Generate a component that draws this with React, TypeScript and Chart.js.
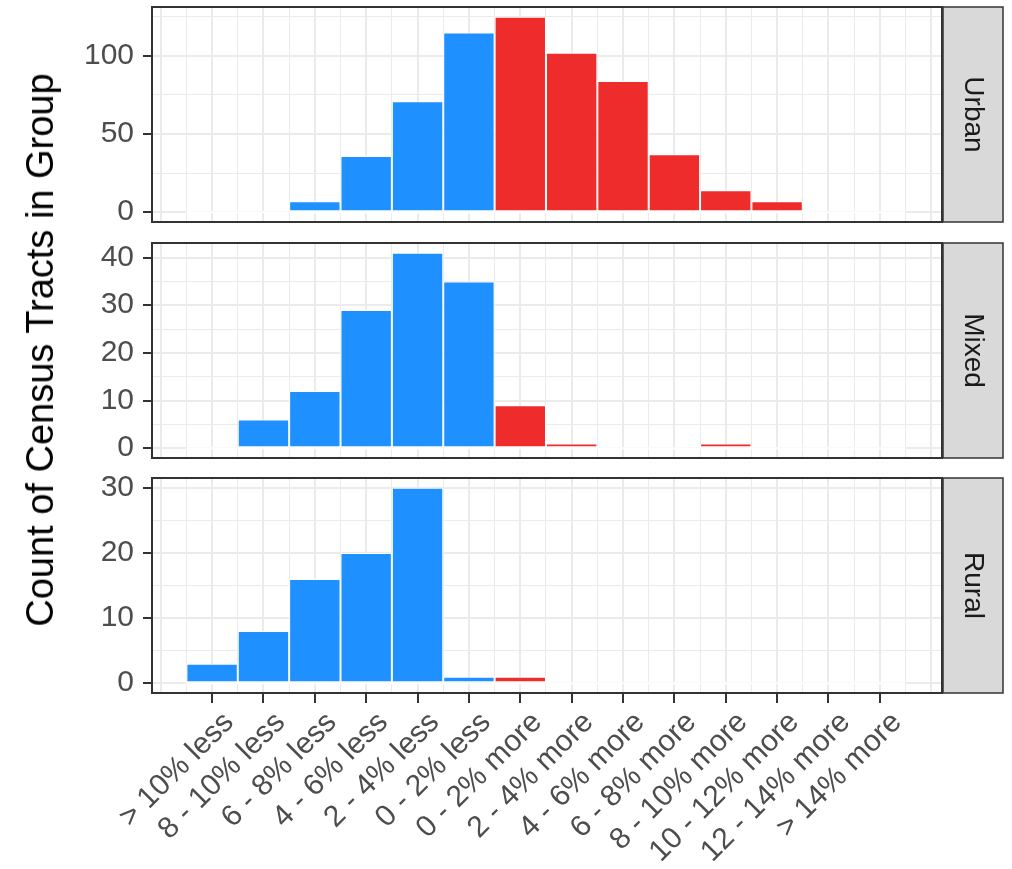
import React, { useEffect, useRef } from 'react';
import { Chart, registerables } from 'chart.js';

Chart.register(...registerables);

// ---------- data ----------
const categories = [
  '> 10% less', '8 - 10% less', '6 - 8% less', '4 - 6% less', '2 - 4% less', '0 - 2% less',
  '0 - 2% more', '2 - 4% more', '4 - 6% more', '6 - 8% more', '8 - 10% more', '10 - 12% more',
  '12 - 14% more', '> 14% more',
];
const urbanCounts = [0, 0, 7, 36, 71, 115, 125, 102, 84, 37, 14, 7, 0, 0];
const mixedCounts = [0, 6, 12, 29, 41, 35, 9, 1, 0, 0, 1, 0, 0, 0];
const ruralCounts = [3, 8, 16, 20, 30, 1, 1, 0, 0, 0, 0, 0, 0, 0];
const urbanTicks = [0, 50, 100];
const mixedTicks = [0, 10, 20, 30, 40];
const ruralTicks = [0, 10, 20, 30];
const facetLabels = ['Urban', 'Mixed', 'Rural'];
const yTitle = 'Count of Census Tracts in Group';

// ---------- style ----------
const FONT = '"Liberation Sans", Arial, Helvetica, sans-serif';
const BLUE = '#1E90FF';
const RED = '#EE2C2C';
const GRID = '#EBEBEB';
const DARK = '#333333';
const TICK_TEXT = '#4D4D4D';
const PANEL_TOPS = [7, 243, 478];
const PANEL_H = 215;
const PAD_T = 20;
const W = 1012;
const H = 869;
const Y_AXIS_W = 152;
const RIGHT_PAD = W - 942;
const X_MIN = -1.17;
const X_MAX = 14.21;
const TICK_FONT = 30;

const facetPlugin = {
  id: 'facet',
  beforeDatasetsDraw(chart: any) {
    const { ctx, scales } = chart;
    const x = scales.x;
    const y = scales.y;
    const y0 = y.getPixelForValue(0);
    ctx.save();
    ctx.strokeStyle = '#FFFFFF';
    ctx.lineWidth = 2;
    ctx.beginPath();
    ctx.moveTo(x.getPixelForValue(-0.5), y0);
    ctx.lineTo(x.getPixelForValue(categories.length - 0.5), y0);
    ctx.stroke();
    ctx.restore();
  },
  afterDraw(chart: any, _args: any, opts: any) {
    const { ctx, chartArea } = chart;
    const { left, top, right, bottom } = chartArea;
    ctx.save();
    const sx = right + 1;
    const sw = 60;
    ctx.fillStyle = '#D9D9D9';
    ctx.fillRect(sx, top, sw, bottom - top);
    ctx.strokeStyle = DARK;
    ctx.lineWidth = 1.5;
    ctx.strokeRect(sx, top, sw, bottom - top);
    ctx.fillStyle = '#1A1A1A';
    ctx.font = `28px ${FONT}`;
    ctx.textAlign = 'center';
    ctx.textBaseline = 'middle';
    ctx.translate(sx + sw / 2, (top + bottom) / 2);
    ctx.rotate(Math.PI / 2);
    ctx.fillText(opts.label, 0, 0);
    ctx.restore();
    ctx.save();
    ctx.strokeStyle = DARK;
    ctx.lineWidth = 2;
    ctx.strokeRect(left, top, right - left, bottom - top);
    ctx.restore();
  },
};

function xTickValues() {
  const vals: number[] = [];
  for (let v = -1; v <= categories.length + 0.001; v += 0.5) vals.push(v);
  return vals;
}

function isLabelTick(v: number) {
  return Number.isInteger(v) && v >= 0 && v < categories.length;
}

type PanelProps = { counts: number[]; majors: number[]; label: string; top: number; bottomAxis: boolean };

function Panel({ counts, majors, label, top, bottomAxis }: PanelProps) {
  const ref = useRef<HTMLCanvasElement>(null);
  const canvasTop = top - PAD_T;
  const canvasH = bottomAxis ? H - canvasTop : PANEL_H + PAD_T * 2;
  useEffect(() => {
    const maxV = Math.max(...counts);
    const yMin = -0.05 * maxV;
    const yMax = 1.05 * maxV;
    const step = majors[1] - majors[0];
    const minors = majors.map((m) => m + step / 2).filter((m) => m <= yMax);
    const yVals = [...majors, ...minors].sort((a, b) => a - b);
    const xAxisH = canvasH - PAD_T - PANEL_H;
    const chart = new Chart(ref.current as HTMLCanvasElement, {
      type: 'bar',
      data: {
        datasets: [
          {
            data: counts.map((v, i) => ({ x: i, y: v })),
            backgroundColor: categories.map((c) => (c.includes('less') ? BLUE : RED)),
            borderColor: '#FFFFFF',
            borderWidth: 1,
            borderSkipped: false,
            categoryPercentage: 1,
            barPercentage: 2,
          } as any,
        ],
      },
      options: {
        responsive: false,
        animation: false,
        devicePixelRatio: 1,
        events: [],
        layout: { padding: { left: 0, right: RIGHT_PAD, top: PAD_T, bottom: bottomAxis ? 0 : PAD_T } },
        plugins: {
          legend: { display: false },
          tooltip: { enabled: false },
          facet: { label },
        } as any,
        scales: {
          x: {
            type: 'linear',
            min: X_MIN,
            max: X_MAX,
            offset: false,
            afterBuildTicks: (s: any) => {
              s.ticks = xTickValues().map((v) => ({ value: v }));
            },
            afterFit: (s: any) => {
              s.height = bottomAxis ? xAxisH : 0;
              s.paddingLeft = 0;
              s.paddingRight = 0;
            },
            border: { display: false },
            grid: {
              offset: false,
              color: GRID,
              lineWidth: (c: any) => (c.tick && Number.isInteger(c.tick.value) ? 2 : 1),
              drawTicks: bottomAxis,
              tickLength: 10,
              tickWidth: 2,
              tickColor: (c: any) => (c.tick && isLabelTick(c.tick.value) ? DARK : 'rgba(0,0,0,0)'),
            },
            ticks: {
              display: bottomAxis,
              autoSkip: false,
              maxRotation: 45,
              minRotation: 45,
              padding: 2,
              labelOffset: 17,
              color: TICK_TEXT,
              font: { size: TICK_FONT, family: FONT },
              callback: (v: any) => (isLabelTick(Number(v)) ? categories[Number(v)] : ''),
            },
          } as any,
          y: {
            type: 'linear',
            min: yMin,
            max: yMax,
            afterBuildTicks: (s: any) => {
              s.ticks = yVals.map((v) => ({ value: v }));
            },
            afterFit: (s: any) => {
              s.width = Y_AXIS_W;
              s.paddingTop = 0;
              s.paddingBottom = 0;
            },
            border: { display: false },
            grid: {
              color: GRID,
              lineWidth: (c: any) => (c.tick && majors.includes(c.tick.value) ? 2 : 1),
              tickLength: 9,
              tickWidth: 2,
              tickColor: (c: any) => (c.tick && majors.includes(c.tick.value) ? DARK : 'rgba(0,0,0,0)'),
            },
            ticks: {
              autoSkip: false,
              padding: 9,
              color: TICK_TEXT,
              font: { size: TICK_FONT, family: FONT },
              callback: (v: any) => (majors.includes(Number(v)) ? String(v) : ''),
            },
          } as any,
        },
      },
      plugins: [facetPlugin],
    });
    return () => chart.destroy();
  }, []);
  return (
    <canvas
      ref={ref}
      width={W}
      height={canvasH}
      style={{ position: 'absolute', left: 0, top: canvasTop, width: W, height: canvasH }}
    />
  );
}

export default function App() {
  const panelCounts = [urbanCounts, mixedCounts, ruralCounts];
  const panelTicks = [urbanTicks, mixedTicks, ruralTicks];
  const centerY = (PANEL_TOPS[0] + PANEL_TOPS[2] + PANEL_H) / 2;
  return (
    <div style={{ position: 'absolute', left: 0, top: 0, width: W, height: H, overflow: 'hidden', background: '#FFFFFF' }}>
      {facetLabels.map((lab, i) => (
        <Panel
          key={lab}
          counts={panelCounts[i]}
          majors={panelTicks[i]}
          label={lab}
          top={PANEL_TOPS[i]}
          bottomAxis={i === facetLabels.length - 1}
        />
      ))}
      <div
        style={{
          position: 'absolute',
          left: 40,
          top: centerY,
          transform: 'translate(-50%, -50%) rotate(-90deg)',
          fontFamily: FONT,
          fontSize: 38,
          color: '#000000',
          whiteSpace: 'nowrap',
          lineHeight: 1,
        }}
      >
        {yTitle}
      </div>
    </div>
  );
}
